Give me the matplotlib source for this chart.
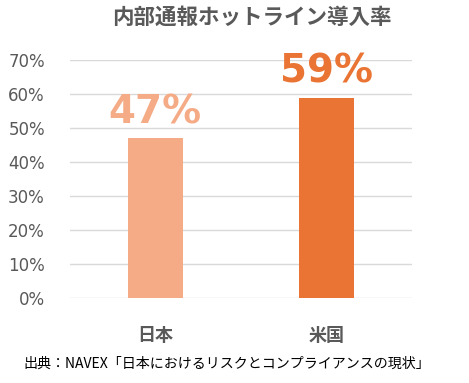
import matplotlib

matplotlib.use("Agg")
import matplotlib.pyplot as plt
from matplotlib.ticker import PercentFormatter

plt.rcParams["font.family"] = ["Noto Sans CJK JP", "DejaVu Sans"]

categories = ["日本", "米国"]
rates = [0.47, 0.59]
value_labels = ["47%", "59%"]
bar_colors = ["#F4AB86", "#E97434"]
yticks = [0, 0.1, 0.2, 0.3, 0.4, 0.5, 0.6, 0.7]

title = "内部通報ホットライン導入率"
source = "出典：NAVEX「日本におけるリスクとコンプライアンスの現状」"

text_grey = "#595959"

fig = plt.figure(figsize=(4.69, 3.83), dpi=100)
ax = fig.add_axes([0.149, 0.222, 0.729, 0.621])

x = range(len(categories))
ax.bar(x, rates, width=0.32, color=bar_colors, zorder=2)

ax.set_ylim(0, 0.7)
ax.set_xlim(-0.5, 1.5)
ax.set_yticks(yticks)
ax.yaxis.set_major_formatter(PercentFormatter(1.0, decimals=0))
ax.grid(axis="y", color="#D9D9D9", linewidth=1, zorder=0)
ax.tick_params(axis="y", length=0, pad=18, labelsize=12, labelcolor=text_grey)
ax.tick_params(axis="x", length=0, pad=20, labelsize=13, labelcolor=text_grey)
ax.set_xticks(list(x))
ax.set_xticklabels(categories, fontweight="bold")
for lab in ax.get_yticklabels():
    lab.set_family("DejaVu Sans")
for side in ["top", "right", "left", "bottom"]:
    ax.spines[side].set_visible(False)

for xi, val, lab, col in zip(x, rates, value_labels, bar_colors):
    ax.text(xi, val + 0.021, lab, ha="center", va="bottom", fontsize=28,
            fontweight="bold", color=col, family="DejaVu Sans", clip_on=False)

fig.text(0.537, 0.955, title, ha="center", va="center", fontsize=15.5,
         fontweight="bold", color=text_grey)
fig.text(0.05, 0.05, source, ha="left", va="center", fontsize=10.1, color="black")

fig.savefig("out.png", dpi=100)
plt.close(fig)
